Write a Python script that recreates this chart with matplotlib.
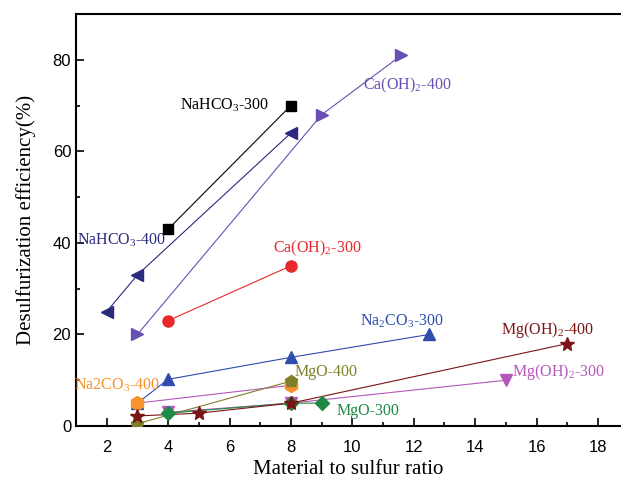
import numpy as np
import matplotlib
matplotlib.use("Agg")
import matplotlib.pyplot as plt
from matplotlib.ticker import MultipleLocator

# series values
nahco3_300_x = [4, 8]
nahco3_300_y = [43, 70]
nahco3_400_x = [2, 3, 8]
nahco3_400_y = [25, 33, 64]
caoh2_400_x = [3, 9, 11.6]
caoh2_400_y = [20, 68, 81]
caoh2_300_x = [4, 8]
caoh2_300_y = [23, 35]
na2co3_300_x = [3, 4, 8, 12.5]
na2co3_300_y = [5, 10.2, 15, 20]
na2co3_400_x = [3, 8]
na2co3_400_y = [5, 8.9]
mgo_400_x = [3, 8]
mgo_400_y = [0.5, 9.8]
mgoh2_300_x = [4, 8, 15]
mgoh2_300_y = [3, 5, 10]
mgo_300_x = [4, 8, 9]
mgo_300_y = [2.8, 5, 5]
mgoh2_400_x = [3, 5, 8, 17]
mgoh2_400_y = [2.2, 2.8, 5, 18]

SERIF = "Liberation Serif"
SANS = "Liberation Sans"

# (x, y, marker, colour, line colour, marker size)
series = [
    (na2co3_300_x, na2co3_300_y, "^", "#2E4DAF", "#2E4DAF", 9),
    (mgoh2_300_x, mgoh2_300_y, "v", "#B558B8", "#B558B8", 9),
    (na2co3_400_x, na2co3_400_y, "h", "#F7922C", "#B558B8", 10),
    (mgo_400_x, mgo_400_y, "p", "#7F7F2A", "#7F7F2A", 9),
    (mgo_300_x, mgo_300_y, "D", "#1F8A44", "#1F8A44", 7),
    (mgoh2_400_x, mgoh2_400_y, "*", "#7A1416", "#7A1416", 10),
    (caoh2_300_x, caoh2_300_y, "o", "#E8282B", "#E8282B", 8),
    (caoh2_400_x, caoh2_400_y, ">", "#6A4FB3", "#6A4FB3", 9),
    (nahco3_400_x, nahco3_400_y, "<", "#2B2A7E", "#2B2A7E", 9),
    (nahco3_300_x, nahco3_300_y, "s", "#000000", "#000000", 7),
]

# (text, x, y, colour)
labels = [
    ("NaHCO$_3$-300", 5.85, 70, "#000000"),
    ("NaHCO$_3$-400", 2.5, 40.5, "#2B2A7E"),
    ("Ca(OH)$_2$-400", 11.8, 74.5, "#6A4FB3"),
    ("Ca(OH)$_2$-300", 8.84, 38.8, "#E8282B"),
    ("Na$_2$CO$_3$-300", 11.6, 22.9, "#2E4DAF"),
    ("Mg(OH)$_2$-400", 16.35, 20.9, "#7A1416"),
    ("Mg(OH)$_2$-300", 16.7, 11.8, "#B558B8"),
    ("MgO-400", 9.16, 11.8, "#7F7F2A"),
    ("MgO-300", 10.5, 3.3, "#1F8A44"),
    ("Na2CO$_3$-400", 2.33, 8.9, "#F7922C"),
]

plt.rcParams["font.family"] = SANS
plt.rcParams["mathtext.fontset"] = "custom"
plt.rcParams["mathtext.rm"] = SERIF
plt.rcParams["mathtext.it"] = SERIF + ":italic"

fig = plt.figure(figsize=(6.21, 4.79), dpi=100)
ax = fig.add_axes([0.1224, 0.1106, 0.8776, 0.8602])

for x, y, m, c, lc, ms in series:
    ax.plot(x, y, color=lc, lw=0.8, zorder=2)
    ax.plot(x, y, ls="none", marker=m, color=c, ms=ms, zorder=3)

for text, x, y, c in labels:
    ax.text(x, y, text, color=c, fontsize=11.5, family=SERIF,
            ha="center", va="center")

ax.set_xlim(1, 18.75)
ax.set_ylim(0, 90)
ax.xaxis.set_major_locator(MultipleLocator(2))
ax.xaxis.set_minor_locator(MultipleLocator(1))
ax.yaxis.set_major_locator(MultipleLocator(20))
ax.yaxis.set_minor_locator(MultipleLocator(10))
ax.tick_params(which="both", direction="in", width=1.2, labelsize=12)
ax.tick_params(which="major", length=6)
ax.tick_params(which="minor", length=3)
ax.tick_params(axis="x", pad=10)
ax.spines["right"].set_visible(False)
for s in ("left", "bottom", "top"):
    ax.spines[s].set_linewidth(1.5)

ax.set_xlabel("Material to sulfur ratio", fontsize=15, family=SERIF)
ax.set_ylabel("Desulfurization efficiency(%)", fontsize=15, family=SERIF,
              labelpad=12)

fig.savefig("out.png", dpi=100)
